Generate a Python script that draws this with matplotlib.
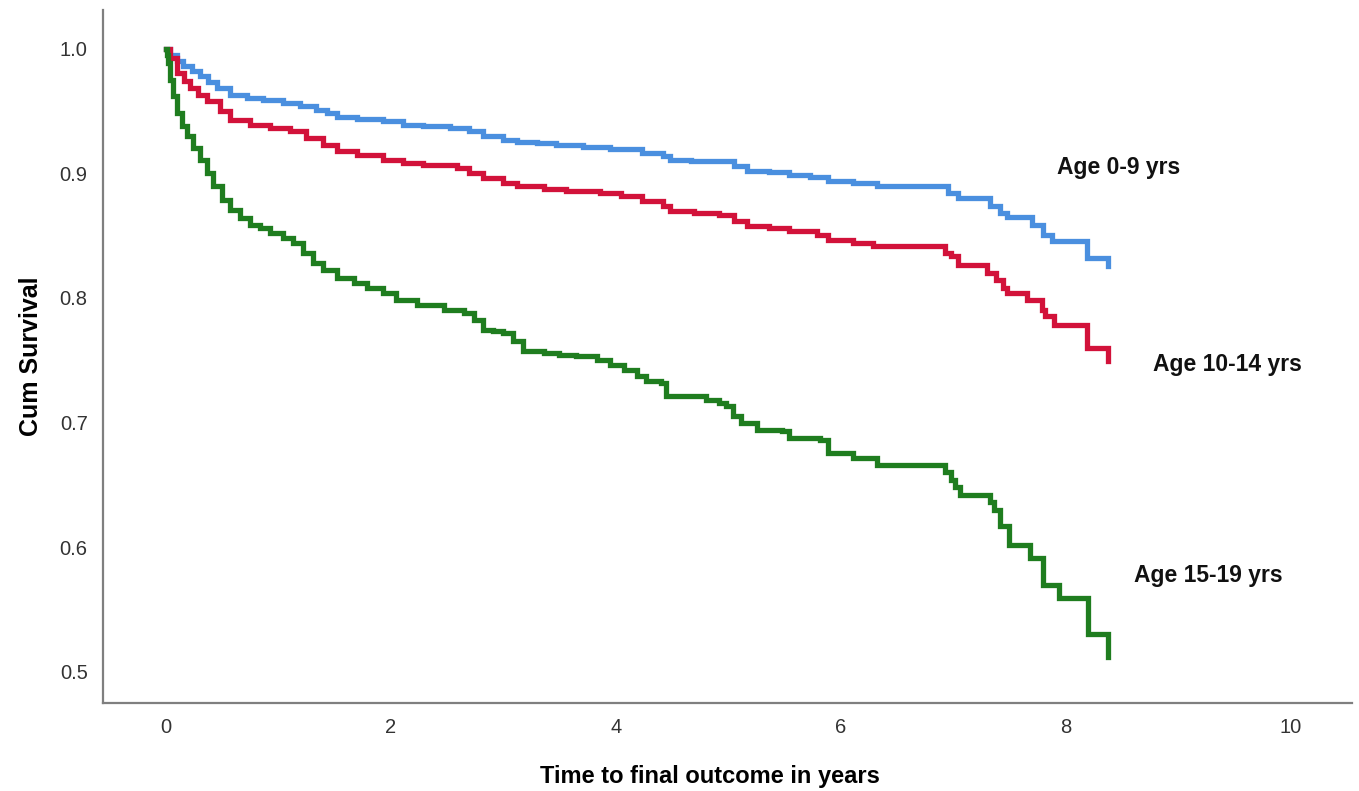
#!/usr/bin/env python3

import matplotlib
matplotlib.use('Agg')
import matplotlib.pyplot as plt

# Kaplan-Meier style step data
time_0_9 = [0, 0.038, 0.10, 0.157, 0.23, 0.305, 0.38, 0.453, 0.571, 0.72,
            0.868, 1.046, 1.19, 1.34, 1.43, 1.52, 1.70, 1.93, 2.11, 2.29,
            2.53, 2.70, 2.82, 3.0, 3.12, 3.30, 3.47, 3.71, 3.95, 4.23,
            4.42, 4.48, 4.67, 5.05, 5.17, 5.36, 5.54, 5.73, 5.89, 6.11,
            6.32, 6.95, 7.04, 7.33, 7.42, 7.48, 7.70, 7.80, 7.88, 8.19,
            8.38]
surv_0_9 = [1.0, 0.9952, 0.990, 0.9858, 0.982, 0.9778, 0.973, 0.9684, 0.9631, 0.9604,
            0.9585, 0.9564, 0.9543, 0.951, 0.948, 0.9452, 0.9436, 0.9417, 0.939, 0.9377,
            0.9363, 0.9337, 0.9302, 0.927, 0.9251, 0.9243, 0.923, 0.9211, 0.9195, 0.9163,
            0.9136, 0.9109, 0.9096, 0.9056, 0.9021, 0.9007, 0.8989, 0.897, 0.8941, 0.8922,
            0.89, 0.8842, 0.8802, 0.8735, 0.868, 0.8647, 0.8587, 0.8507, 0.8454, 0.832,
            0.8253]

time_10_14 = [0, 0.038, 0.098, 0.16, 0.216, 0.29, 0.364, 0.483, 0.571, 0.75,
              0.928, 1.106, 1.25, 1.40, 1.52, 1.70, 1.93, 2.11, 2.29, 2.59,
              2.70, 2.82, 3.0, 3.12, 3.36, 3.56, 3.86, 4.05, 4.23, 4.42,
              4.48, 4.70, 4.92, 5.05, 5.17, 5.36, 5.54, 5.79, 5.89, 6.11,
              6.29, 6.93, 6.98, 7.04, 7.30, 7.38, 7.44, 7.48, 7.66, 7.79,
              7.82, 7.90, 8.19, 8.38]
surv_10_14 = [1.0, 0.9925, 0.9805, 0.974, 0.9684, 0.963, 0.9577, 0.9497, 0.943, 0.939,
              0.9363, 0.9337, 0.9283, 0.923, 0.9176, 0.915, 0.9109, 0.9082, 0.9069, 0.9042,
              0.9002, 0.8962, 0.8922, 0.8895, 0.8874, 0.8855, 0.884, 0.8815, 0.8775, 0.8735,
              0.8694, 0.8681, 0.8668, 0.8614, 0.8574, 0.8561, 0.8534, 0.8507, 0.8467, 0.844,
              0.8414, 0.836, 0.8333, 0.8266, 0.820, 0.8146, 0.808, 0.8039, 0.7986, 0.790,
              0.7852, 0.7785, 0.7598, 0.7491]

time_15_19 = [0, 0.008, 0.023, 0.038, 0.068, 0.098, 0.142, 0.186, 0.246, 0.305,
              0.364, 0.423, 0.497, 0.571, 0.66, 0.75, 0.839, 0.928, 1.046, 1.135,
              1.224, 1.31, 1.40, 1.52, 1.67, 1.79, 1.93, 2.05, 2.23, 2.47,
              2.65, 2.74, 2.82, 2.91, 3.0, 3.09, 3.18, 3.36, 3.50, 3.65,
              3.83, 3.95, 4.07, 4.19, 4.27, 4.40, 4.45, 4.80, 4.92, 4.98,
              5.045, 5.11, 5.26, 5.48, 5.54, 5.82, 5.89, 6.11, 6.32, 6.93,
              6.98, 7.02, 7.06, 7.33, 7.36, 7.42, 7.5, 7.68, 7.8, 7.94,
              8.2, 8.38]
surv_15_19 = [1.0, 0.995, 0.9885, 0.9751, 0.9617, 0.9484, 0.9377, 0.9296, 0.9203, 0.9109,
              0.9002, 0.8895, 0.8788, 0.8708, 0.8641, 0.8587, 0.856, 0.852, 0.848, 0.844,
              0.836, 0.828, 0.8226, 0.8159, 0.8119, 0.8079, 0.8039, 0.7986, 0.7945, 0.7905,
              0.7879, 0.7825, 0.7745, 0.7731, 0.7718, 0.7651, 0.7571, 0.7557, 0.7544, 0.7531,
              0.7504, 0.7464, 0.7424, 0.737, 0.733, 0.7317, 0.721, 0.7183, 0.7156, 0.713,
              0.7049, 0.6996, 0.6942, 0.6929, 0.6875, 0.6862, 0.6755, 0.6715, 0.6661, 0.660,
              0.654, 0.648, 0.642, 0.636, 0.630, 0.6166, 0.602, 0.591, 0.570, 0.559,
              0.530, 0.512]

groups = ['Age 0-9 yrs', 'Age 10-14 yrs', 'Age 15-19 yrs']
x_ticks = [0, 2, 4, 6, 8, 10]
y_ticks = [0.5, 0.6, 0.7, 0.8, 0.9, 1.0]


def main():
    plt.rcParams['font.family'] = ['Liberation Sans', 'DejaVu Sans']

    fig = plt.figure(figsize=(13.59, 7.91), dpi=100)
    ax = fig.add_axes([0.0758, 0.1113, 0.919, 0.8761])

    series = [(time_0_9, surv_0_9, '#4a8fdf'),
              (time_10_14, surv_10_14, '#d2123a'),
              (time_15_19, surv_15_19, '#1f7d1f')]
    for t, s, color in series:
        ax.plot(t, s, drawstyle='steps-post', color=color, linewidth=3.8,
                solid_joinstyle='miter')

    # group labels next to the curve ends
    label_pos = [(7.92, 0.9045), (8.78, 0.7464), (8.61, 0.577)]
    for name, (lx, ly) in zip(groups, label_pos):
        ax.text(lx, ly, name, fontsize=16.5, fontweight='bold', color='#111111',
                ha='left', va='center')

    ax.set_xlim(-0.557, 10.545)
    ax.set_ylim(0.475, 1.031)
    ax.set_xticks(x_ticks)
    ax.set_xticklabels([str(v) for v in x_ticks])
    ax.set_yticks(y_ticks)
    ax.set_yticklabels(['%.1f' % v for v in y_ticks])
    ax.tick_params(length=0, labelsize=14.5, labelcolor='#333333', pad=11)

    for side in ('top', 'right'):
        ax.spines[side].set_visible(False)
    for side in ('left', 'bottom'):
        ax.spines[side].set_color('#7f7f7f')
        ax.spines[side].set_linewidth(1.6)

    ax.set_xlabel('Time to final outcome in years', fontsize=17, fontweight='bold',
                  labelpad=20, x=0.486)
    ax.set_ylabel('Cum Survival', fontsize=18, fontweight='bold', labelpad=12)

    fig.savefig('out.png', dpi=100)


if __name__ == '__main__':
    main()
